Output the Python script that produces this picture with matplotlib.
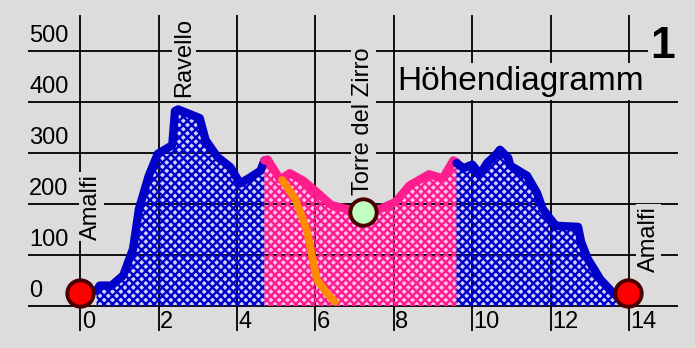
import matplotlib.pyplot as plt

# route profile: distance in km, elevation in m
dist_a = [0.42, 0.5, 0.8, 1.1, 1.35, 1.5, 1.75, 1.98, 2.35, 2.42, 2.5, 3.05, 3.2, 3.5, 3.83, 4.08, 4.34, 4.6, 4.7]
elev_a = [30, 40, 40, 60, 112, 190, 255, 298, 315, 382, 385, 368, 325, 292, 272, 240, 252, 265, 285]

dist_b = [4.7, 4.78, 5.1, 5.35, 5.7, 6.05, 6.4, 6.8, 7.2, 7.65, 8.05, 8.4, 8.9, 9.25, 9.52, 9.6]
elev_b = [285, 287, 248, 260, 245, 222, 198, 190, 188, 190, 204, 236, 258, 250, 285, 282]

dist_c = [9.6, 9.78, 10.0, 10.2, 10.38, 10.59, 10.71, 10.92, 10.97, 11.4, 11.65, 11.8, 12.07, 12.15, 12.7, 12.78, 12.95, 13.27, 13.6, 13.75]
elev_c = [280, 270, 277, 258, 280, 295, 306, 290, 275, 255, 222, 190, 163, 157, 155, 125, 92, 52, 25, 15]

# side path
path_dist = [5.15, 5.5, 5.78, 5.92, 6.04, 6.3, 6.5]
path_elev = [247, 208, 149, 96, 51, 25, 8]

# waypoints
stops = ['Amalfi', 'Ravello', 'Torre del Zirro', 'Amalfi']
stop_dist = [0.0, 2.65, 7.22, 13.98]
stop_elev = [25, None, 184, 25]
label_pos = [(0.28, 130), (2.65, 410), (7.22, 218), (14.5, 67)]

xticks = [0, 2, 4, 6, 8, 10, 12, 14]
yticks = [0, 100, 200, 300, 400, 500]

plt.rcParams['font.family'] = ['Liberation Sans', 'DejaVu Sans']
plt.rcParams['hatch.linewidth'] = 1.7

bg = '#dcdcdc'
fig = plt.figure(figsize=(6.95, 3.48), dpi=100, facecolor=bg)
ax = fig.add_axes([28 / 695, 17 / 348, 650 / 695, 316 / 348], facecolor=bg)
ax.set_xlim(-1.33, 15.25)
ax.set_ylim(-49, 570)
for s in ax.spines.values():
    s.set_visible(False)
ax.set_xticks(xticks)
ax.set_yticks(yticks)
ax.tick_params(length=0, labelleft=False, labelbottom=False)
ax.set_axisbelow(False)
ax.grid(True, color='black', linewidth=1.3)

segments = [(dist_a, elev_a, '#0000c8', '#d0d0ff'),
            (dist_b, elev_b, '#ff1c8c', '#ffc0ee'),
            (dist_c, elev_c, '#0000c8', '#d0d0ff')]
for d, h, dark, light in segments:
    ax.fill_between(d, 0, h, facecolor=light, linewidth=0, zorder=1)
    ax.fill_between(d, 0, h, facecolor='none', edgecolor=dark, hatch='xxxx',
                    linewidth=0, zorder=3)
    ax.plot(d, h, color=dark, linewidth=6, solid_capstyle='round',
            solid_joinstyle='round', zorder=4)

ax.plot(path_dist, path_elev, color='#ff8c00', linewidth=5.5,
        solid_capstyle='round', zorder=5)

# tick labels sit inside the plot area
for v in yticks:
    ax.text(-1.3, v + 8, str(v), fontsize=17, ha='left', va='bottom', zorder=6)
for v in xticks:
    ax.text(v + 0.04, -10, str(v), fontsize=17, ha='left', va='top', zorder=6)

box = dict(facecolor=bg, edgecolor='none', pad=1)
for name, (lx, ly) in zip(stops, label_pos):
    ax.text(lx, ly, name, rotation=90, fontsize=17, ha='center', va='bottom',
            bbox=box, zorder=6)

ax.text(8.1, 423, 'Höhendiagramm', fontsize=24, ha='left', va='baseline',
        bbox=dict(facecolor=bg, edgecolor='none', pad=2), zorder=6)
ax.text(14.87, 486, '1', fontsize=32, fontweight='bold', ha='center',
        va='baseline', bbox=dict(facecolor=bg, edgecolor='none', pad=2), zorder=6)

colors = ['#ff0000', None, '#c0ffc0', '#ff0000']
for d, h, c in zip(stop_dist, stop_elev, colors):
    if h is None:
        continue
    ax.plot(d, h, 'o', markersize=19, markerfacecolor=c, markeredgecolor='#4a0000',
            markeredgewidth=2.8, zorder=7)

fig.savefig('out.png', dpi=100, facecolor=bg)
